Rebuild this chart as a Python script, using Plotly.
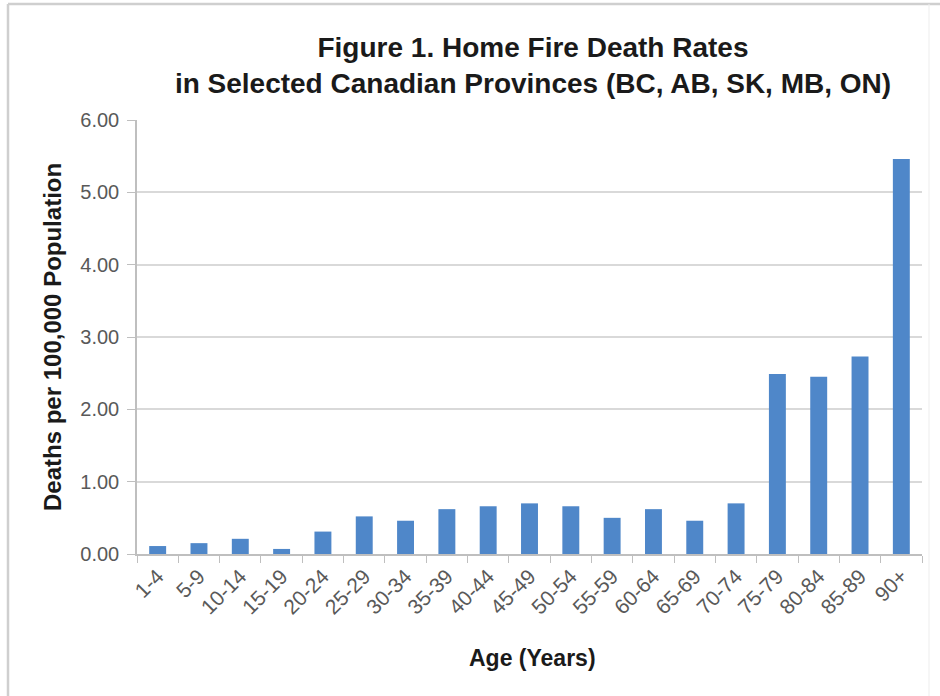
import plotly.graph_objects as go

# Age groups and home fire death rates (deaths per 100,000 population)
age_groups = ["1-4", "5-9", "10-14", "15-19", "20-24", "25-29", "30-34", "35-39",
              "40-44", "45-49", "50-54", "55-59", "60-64", "65-69", "70-74",
              "75-79", "80-84", "85-89", "90+"]
death_rates = [0.11, 0.15, 0.21, 0.07, 0.31, 0.52, 0.46, 0.62,
               0.66, 0.70, 0.66, 0.50, 0.62, 0.46, 0.70,
               2.49, 2.45, 2.73, 5.46]
y_ticks = [0, 1, 2, 3, 4, 5, 6]
y_tick_labels = ["0.00", "1.00", "2.00", "3.00", "4.00", "5.00", "6.00"]

BAR_COLOR = "#4F87C9"
TEXT_COLOR = "#595959"
DARK = "#1a1a1a"
FONT = "Liberation Sans, Arial, sans-serif"

fig = go.Figure(
    go.Bar(
        x=age_groups,
        y=death_rates,
        marker=dict(color=BAR_COLOR, line=dict(width=0)),
        hoverinfo="x+y",
    )
)

# plot area spans x 137..922 px, y 120..554 px in a 940x696 page
L, R, T, B = 137, 18, 120, 142
W, H = 940, 696
pw, ph = W - L - R, H - T - B

def px_x(px):
    return (px - L) / pw

def px_y(py):
    return (H - B - py) / ph

fig.update_layout(
    width=W,
    height=H,
    margin=dict(l=L, r=R, t=T, b=B),
    paper_bgcolor="white",
    plot_bgcolor="white",
    bargap=0.59,
    showlegend=False,
    font=dict(family=FONT, color=TEXT_COLOR),
    title=dict(
        text="Figure 1. Home Fire Death Rates<br>in Selected Canadian Provinces (BC, AB, SK, MB, ON)",
        x=px_x(533), xref="paper", xanchor="center",
        y=1 - 57 / H, yref="container", yanchor="middle",
        font=dict(family=FONT, size=28, color=DARK, weight="bold"),
    ),
    xaxis=dict(
        type="category",
        tickangle=-45,
        tickfont=dict(size=21, color=TEXT_COLOR),
        showline=True, linecolor="#BFBFBF", linewidth=1.5,
        ticks="outside", ticklen=7, tickcolor="#BFBFBF", tickwidth=1,
        tickson="boundaries",
        showgrid=False,
    ),
    yaxis=dict(
        range=[0, 6],
        tickvals=y_ticks,
        ticktext=y_tick_labels,
        tickfont=dict(size=20, color=TEXT_COLOR),
        ticklabelstandoff=4,
        showline=True, linecolor="#BFBFBF", linewidth=1.5,
        ticks="outside", ticklen=8, tickcolor="#BFBFBF", tickwidth=1,
        showgrid=True, gridcolor="#D9D9D9", gridwidth=1.5,
        zeroline=False,
    ),
    annotations=[
        dict(text="Age (Years)", xref="paper", yref="paper",
             x=px_x(532), y=px_y(658), xanchor="center", yanchor="middle",
             showarrow=False,
             font=dict(family=FONT, size=23, color=DARK, weight="bold")),
        dict(text="Deaths per 100,000 Population", xref="paper", yref="paper",
             x=px_x(52), y=px_y(337), xanchor="center", yanchor="middle",
             textangle=-90, showarrow=False,
             font=dict(family=FONT, size=24, color=DARK, weight="bold")),
    ],
    shapes=[
        # light frame around the chart
        dict(type="line", xref="paper", yref="paper",
             x0=px_x(8), x1=px_x(8), y0=px_y(4), y1=px_y(700),
             line=dict(color="#CFCFCF", width=2.5)),
        dict(type="line", xref="paper", yref="paper",
             x0=px_x(8), x1=px_x(940), y0=px_y(4), y1=px_y(4),
             line=dict(color="#CFCFCF", width=2.5)),
        dict(type="line", xref="paper", yref="paper",
             x0=px_x(929), x1=px_x(929), y0=px_y(4), y1=px_y(700),
             line=dict(color="#EDEDED", width=1)),
    ],
)

fig.write_html("out.html")
